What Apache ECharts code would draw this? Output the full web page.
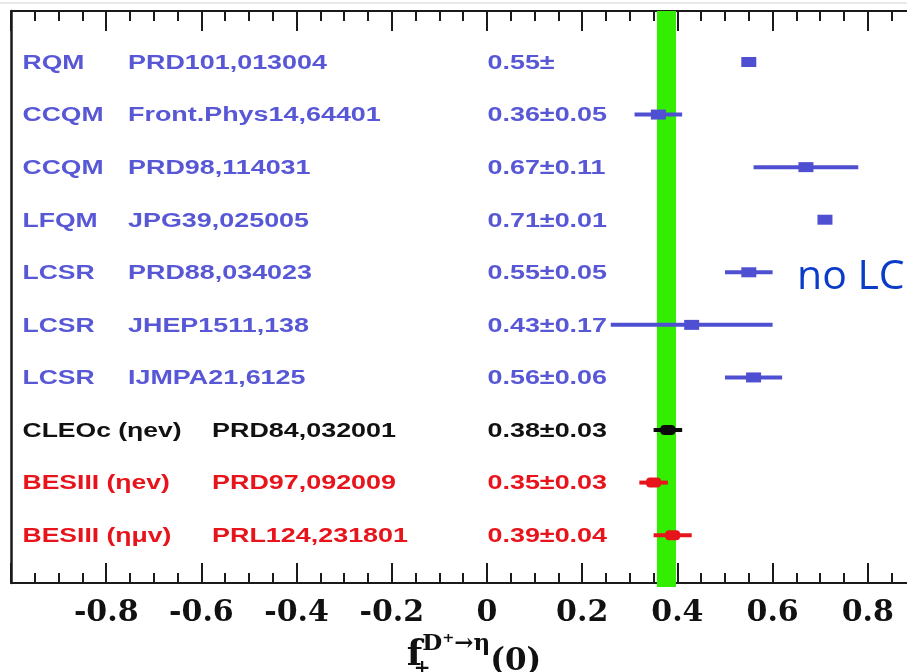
<!DOCTYPE html>
<html>
<head>
<meta charset="utf-8">
<script src="https://cdn.jsdelivr.net/npm/echarts@6/dist/echarts.min.js"></script>
<style>
html,body{margin:0;padding:0;background:#ffffff;}
#chart{width:907px;height:672px;}
</style>
</head>
<body>
<div id="chart"></div>
<script>
// ---- data ----
const methods = ['RQM', 'CCQM', 'CCQM', 'LFQM', 'LCSR', 'LCSR', 'LCSR', 'CLEOc (ηev)', 'BESIII (ηev)', 'BESIII (ημv)'];
const references = ['PRD101,013004', 'Front.Phys14,64401', 'PRD98,114031', 'JPG39,025005', 'PRD88,034023', 'JHEP1511,138', 'IJMPA21,6125', 'PRD84,032001', 'PRD97,092009', 'PRL124,231801'];
const centralValues = [0.55, 0.36, 0.67, 0.71, 0.55, 0.43, 0.56, 0.38, 0.35, 0.39];
const uncertainties = [null, 0.05, 0.11, 0.01, 0.05, 0.17, 0.06, 0.03, 0.03, 0.04];
const resultTexts = ['0.55±', '0.36±0.05', '0.67±0.11', '0.71±0.01', '0.55±0.05', '0.43±0.17', '0.56±0.06', '0.38±0.03', '0.35±0.03', '0.39±0.04'];
const groups = ['theory', 'theory', 'theory', 'theory', 'theory', 'theory', 'theory', 'CLEOc', 'BESIII', 'BESIII'];
const averageBand = [0.357, 0.397];
const xTickLabels = ['-1', '-0.8', '-0.6', '-0.4', '-0.2', '0', '0.2', '0.4', '0.6', '0.8', '1'];

// ---- styles ----
const X_MIN = -1, X_MAX = 1;
const textColors = { theory: '#5858d6', CLEOc: '#111111', BESIII: '#e8141c' };
const markColors = { theory: '#4f4fd2', CLEOc: '#0a0a0a', BESIII: '#e8141c' };
const axisColor = '#1a1a1a';

const rows = methods.map((m, i) => [i + 1, centralValues[i], uncertainties[i] == null ? 0 : uncertainties[i]]);

const chart = echarts.init(document.getElementById('chart'), null, { renderer: 'canvas' });

function bandItem(params, api) {
  const cs = params.coordSys;
  const a = api.coord([api.value(0), 1]);
  const b = api.coord([api.value(1), 1]);
  return {
    type: 'rect',
    shape: { x: a[0], y: cs.y, width: b[0] - a[0], height: cs.height + 4 },
    style: { fill: '#33ee00' }
  };
}

function markerItem(params, api) {
  const i = params.dataIndex;
  const row = api.value(0), v = api.value(1), err = api.value(2);
  const c = api.coord([v, row]);
  const color = markColors[groups[i]];
  const isExp = groups[i] !== 'theory';
  const children = [];
  if (err > 0) {
    const a = api.coord([v - err, row]);
    const b = api.coord([v + err, row]);
    children.push({ type: 'line', shape: { x1: a[0], y1: c[1], x2: b[0], y2: c[1] }, style: { stroke: color, lineWidth: 4 } });
  }
  children.push({ type: 'rect', shape: { x: c[0] - 7.5, y: c[1] - 5, width: 15, height: 10, r: isExp ? 4 : 0 }, style: { fill: color } });
  return { type: 'group', children };
}

function textItem(params, api) {
  const i = params.dataIndex;
  const row = api.value(0);
  const y = api.coord([0, row])[1] + 1.5;
  const xLeft = api.coord([X_MIN, row])[0];
  const xZero = api.coord([0, row])[0];
  const color = textColors[groups[i]];
  const isExp = groups[i] !== 'theory';
  const mk = (text, x, sx) => ({
    type: 'text', x: x, y: y, scaleX: sx,
    style: {
      text: text, fill: color,
      fontFamily: '"Liberation Sans", Arial, sans-serif', fontWeight: 'bold', fontSize: 19.5,
      align: 'left', verticalAlign: 'middle'
    }
  });
  return {
    type: 'group',
    children: [
      mk(methods[i], xLeft + 11.5, 1.36),
      mk(references[i], xLeft + (isExp ? 201 : 117), 1.38),
      mk(resultTexts[i], xZero + 0.5, 1.38)
    ]
  };
}

const serifFont = '"DejaVu Serif", "Liberation Serif", serif';

const baseX = {
  type: 'value', min: X_MIN, max: X_MAX, interval: 0.2,
  axisLine: { show: true, onZero: false, lineStyle: { color: axisColor, width: 2 } },
  axisTick: { show: true, inside: true, length: 20, lineStyle: { color: axisColor, width: 2 } },
  minorTick: { show: true, splitNumber: 4, length: 10, lineStyle: { color: axisColor, width: 2 } },
  splitLine: { show: false },
  minorSplitLine: { show: false }
};

const option = {
  animation: false,
  backgroundColor: '#ffffff',
  grid: { left: 11, top: 11, width: 952, height: 572, containLabel: false, outerBoundsMode: 'none' },
  xAxis: [
    Object.assign({}, baseX, {
      position: 'bottom',
      axisLabel: {
        show: true, showMinLabel: false, showMaxLabel: false, margin: 15,
        fontFamily: serifFont, fontWeight: 'bold', fontSize: 30, color: '#111111',
        formatter: function (v) { return xTickLabels[Math.round((v - X_MIN) / 0.2)]; }
      },
      name: '{f|f}{sub|+}{sup|D⁺→η}{p|(0)}',
      nameLocation: 'middle',
      nameGap: 42,
      nameTextStyle: {
        color: '#111111', fontFamily: serifFont, fontWeight: 'bold', padding: [0, 26, 0, 0],
        rich: {
          f: { fontFamily: serifFont, fontWeight: 'bold', fontSize: 36, color: '#111111', lineHeight: 46, verticalAlign: 'middle' },
          sub: { fontFamily: serifFont, fontWeight: 'bold', fontSize: 20, color: '#111111', width: 0, lineHeight: 46, verticalAlign: 'bottom' },
          sup: { fontFamily: serifFont, fontWeight: 'bold', fontSize: 23, color: '#111111', lineHeight: 46, verticalAlign: 'top' },
          p: { fontFamily: serifFont, fontWeight: 'bold', fontSize: 31, color: '#111111', lineHeight: 46, verticalAlign: 'middle', padding: [12, 0, 0, 0] }
        }
      }
    }),
    Object.assign({}, baseX, {
      position: 'top',
      axisLabel: { show: false }
    })
  ],
  yAxis: {
    type: 'value', min: 0.03, max: 10.91, inverse: true,
    axisLine: { show: true, onZero: false, lineStyle: { color: axisColor, width: 2.5 } },
    axisTick: { show: false }, axisLabel: { show: false }, splitLine: { show: false }
  },
  series: [
    { type: 'custom', name: 'average', z: 1, silent: true, renderItem: bandItem, encode: { x: [0, 1] }, data: [averageBand], clip: false },
    { type: 'custom', name: 'results', z: 3, silent: true, renderItem: markerItem, encode: { x: 1, y: 0 }, data: rows, clip: false },
    { type: 'custom', name: 'labels', z: 4, silent: true, renderItem: textItem, encode: { x: 1, y: 0 }, data: rows, clip: false }
  ],
  graphic: [
    { type: 'line', shape: { x1: 0, y1: 3, x2: 907, y2: 3 }, style: { stroke: '#d4d4d4', lineWidth: 1 }, silent: true },
    { type: 'text', x: 797, y: 277, style: { text: 'no LC', fontFamily: '"Open Sans", "Noto Sans", sans-serif', fontSize: 41, fill: '#0a3cc8', verticalAlign: 'middle' }, silent: true }
  ]
};

chart.setOption(option);
</script>
</body>
</html>
